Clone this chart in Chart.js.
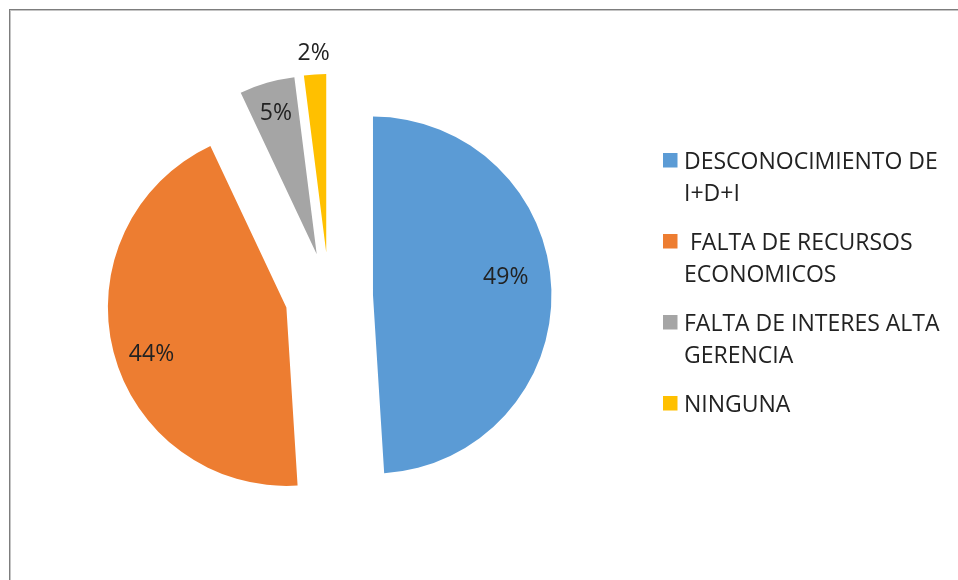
<!DOCTYPE html>
<html>
<head>
<meta charset="utf-8">
<title>Barreras I+D+I</title>
<script src="https://cdn.jsdelivr.net/npm/chart.js@4/dist/chart.umd.min.js"></script>
<style>
  html, body { margin: 0; padding: 0; background: #fff; }
  #wrap { width: 958px; height: 580px; position: relative; }
</style>
</head>
<body>
<div id="wrap"><canvas id="pieChart" width="958" height="580"></canvas></div>
<script>
// categorias (cada una en las lineas que ocupa en la leyenda)
const categorias = [
    ["DESCONOCIMIENTO DE", "I+D+I"],
    [" FALTA DE RECURSOS", "ECONOMICOS"],
    ["FALTA DE INTERES ALTA", "GERENCIA"],
    ["NINGUNA"]
];
const porcentajes = [49, 44, 5, 2];
const colores = ["#5B9BD5", "#ED7D31", "#A5A5A5", "#FFC000"];

const FUENTE = "'Open Sans', 'Liberation Sans', sans-serif";

// centro de una porcion ya separada del centro del pastel
function centroSeparado(arc, px) {
    const mitad = (arc.startAngle + arc.endAngle) / 2;
    return {
        x: arc.x + Math.cos(mitad) * px,
        y: arc.y + Math.sin(mitad) * px,
        mitad: mitad
    };
}

const marco = {
    id: "marco",
    beforeDraw(chart) {
        const ctx = chart.ctx;
        ctx.save();
        ctx.fillStyle = "#7d7d7d";
        ctx.fillRect(9, 9, chart.width, 1);
        ctx.fillRect(9, 9, 1, chart.height);
        ctx.fillStyle = "#c4c4c4";
        ctx.fillRect(10, 10, chart.width, 1);
        ctx.fillRect(10, 10, 1, chart.height);
        ctx.restore();
    }
};

// dibuja cada porcion desplazada sobre su bisectriz (pastel explotado)
const separacion = {
    id: "separacion",
    beforeDatasetDraw(chart, args, opts) {
        const ctx = chart.ctx;
        args.meta.data.forEach((arc) => {
            const c = centroSeparado(arc, opts.px);
            ctx.save();
            ctx.translate(c.x - arc.x, c.y - arc.y);
            arc.draw(ctx, chart.chartArea);
            ctx.restore();
        });
        return false;
    }
};

const etiquetas = {
    id: "etiquetas",
    afterDatasetsDraw(chart, args, opts) {
        const ctx = chart.ctx;
        const meta = chart.getDatasetMeta(0);
        const datos = chart.data.datasets[0].data;
        const total = datos.reduce((a, b) => a + b, 0);
        const px = chart.options.plugins.separacion.px;
        ctx.save();
        ctx.font = opts.font;
        ctx.fillStyle = opts.color;
        ctx.textAlign = "center";
        ctx.textBaseline = "middle";
        meta.data.forEach((arc, i) => {
            const c = centroSeparado(arc, px);
            const ang = c.mitad + opts.giro[i] * Math.PI / 180;
            const r = arc.outerRadius * opts.radio[i];
            const texto = Math.round(datos[i] / total * 100) + "%";
            ctx.fillText(texto, c.x + Math.cos(ang) * r, c.y + Math.sin(ang) * r);
        });
        ctx.restore();
    }
};

const leyenda = {
    id: "leyenda",
    afterDraw(chart, args, opts) {
        const ctx = chart.ctx;
        const fondos = chart.data.datasets[0].backgroundColor;
        ctx.save();
        ctx.font = opts.font;
        ctx.textAlign = "left";
        ctx.textBaseline = "alphabetic";
        let base = opts.y;
        chart.data.labels.forEach((lineas, i) => {
            ctx.fillStyle = fondos[i];
            ctx.fillRect(opts.x, base - opts.caja - 1.5, opts.caja, opts.caja);
            ctx.fillStyle = opts.color;
            lineas.forEach((linea, j) => {
                ctx.fillText(linea, opts.x + opts.texto, base + j * opts.linea);
            });
            base += (lineas.length - 1) * opts.linea + opts.salto;
        });
        ctx.restore();
    }
};

new Chart(document.getElementById("pieChart"), {
    type: "pie",
    data: {
        labels: categorias,
        datasets: [{
            data: porcentajes,
            backgroundColor: colores,
            borderWidth: 0
        }]
    },
    options: {
        responsive: false,
        animation: false,
        radius: 178.5,
        layout: { padding: { left: 0, right: 300, top: 13, bottom: 0 } },
        events: [],
        plugins: {
            legend: { display: false },
            tooltip: { enabled: false },
            separacion: { px: 44 },
            etiquetas: {
                font: "23px " + FUENTE,
                color: "#222222",
                radio: [0.75, 0.80, 0.82, 1.12],
                giro: [-5.6, -4.8, 0, 0]
            },
            leyenda: {
                font: "23px " + FUENTE,
                color: "#222222",
                x: 663,
                y: 169,
                caja: 14.5,
                texto: 21,
                linea: 31.5,
                salto: 49.5
            }
        }
    },
    plugins: [marco, separacion, etiquetas, leyenda]
});
</script>
</body>
</html>
